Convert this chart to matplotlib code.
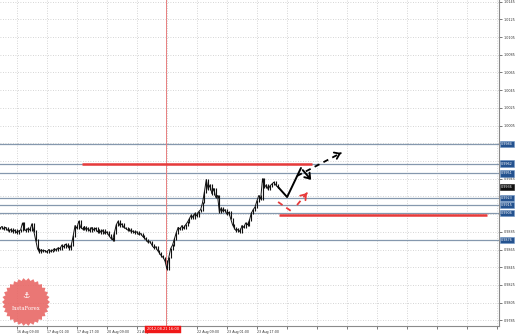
import numpy as np
import matplotlib
matplotlib.use("Agg")
import matplotlib.pyplot as plt
from matplotlib.patches import Polygon

# ---------------- data ----------------
closes = [
    0.9889, 0.9891, 0.9888, 0.9890, 0.9887,
    0.9886, 0.9888, 0.9885, 0.9887, 0.9884, 0.9886, 0.9887,
    0.9895,
    0.9888, 0.9886, 0.9889, 0.9887, 0.9894, 0.9886,
    0.9876, 0.9866, 0.9862,
    0.9865, 0.9863, 0.9864, 0.9862, 0.9865, 0.9863, 0.9864, 0.9866, 0.9864, 0.9867, 0.9866,
    0.9870, 0.9868, 0.9871, 0.9869,
    0.9866, 0.9870,
    0.9880, 0.9892, 0.9889, 0.9897,
    0.9890, 0.9888, 0.9891, 0.9887, 0.9889, 0.9886, 0.9890, 0.9887, 0.9889, 0.9885, 0.9887,
    0.9884, 0.9887, 0.9883, 0.9885, 0.9881, 0.9878, 0.9876,
    0.9884,
    0.9893, 0.9897, 0.9892, 0.9894, 0.9890,
    0.9889, 0.9887, 0.9888, 0.9885, 0.9886, 0.9884, 0.9885, 0.9882, 0.9883, 0.9880,
    0.9878, 0.9876, 0.9873, 0.9874, 0.9870, 0.9867, 0.9868, 0.9864,
    0.9861, 0.9858, 0.9856, 0.9852, 0.9843,
    0.9856, 0.9866, 0.9870, 0.9877, 0.9884,
    0.9890, 0.9888, 0.9892, 0.9889, 0.9893, 0.9896,
    0.9900, 0.9904, 0.9901, 0.9906, 0.9903, 0.9908, 0.9910,
    0.9918, 0.9930, 0.9944, 0.9933, 0.9938,
    0.9928, 0.9934, 0.9924, 0.9926,
    0.9907,
    0.9912, 0.9908, 0.9910, 0.9905, 0.9907, 0.9900,
    0.9893, 0.9889, 0.9886, 0.9888, 0.9885,
    0.9892, 0.9890, 0.9895, 0.9893, 0.9898,
    0.9906, 0.9910, 0.9913, 0.9920,
    0.9926, 0.9922, 0.9945,
    0.9935, 0.9938, 0.9933, 0.9937,
    0.9939, 0.9941, 0.9938, 0.9936,
]
current_price = 0.9936

level_lines = [0.9984, 0.9962, 0.9951, 0.9923, 0.9915, 0.9906, 0.9876]
level_labels = ["0.9984", "0.9962", "0.9951", "0.9923", "0.9915", "0.9906", "0.9876"]

red_upper = (0.9962, 43.7, 166.4)   # price, x start, x end (bars)
red_lower = (0.9904, 148.8, 259.7)
vline_bar = 88.5
vline_label = "2012.08.21 16:00"

price_ticks = [0.9785, 0.9805, 0.9825, 0.9845, 0.9865, 0.9885, 0.9905, 0.9925,
               0.9945, 0.9965, 0.9985, 1.0005, 1.0025, 1.0045, 1.0065, 1.0085,
               1.0105, 1.0125, 1.0145]
price_tick_labels = ["0.9785", "0.9805", "0.9825", "0.9845", "0.9865", "0.9885", "",
                     "", "0.9945", "", "", "1.0005", "1.0025", "1.0045", "1.0065",
                     "1.0085", "1.0105", "1.0125", "1.0145"]
time_tick_bars = [-7, 9, 25, 41, 57, 73, 89, 105, 121, 137, 153, 169, 185, 201,
                  217, 233, 249, 265]
time_tick_labels = ["15 Aug 17:00", "16 Aug 09:00", "17 Aug 01:00", "17 Aug 17:00",
                    "20 Aug 09:00", "21 Aug 01:00", "", "22 Aug 09:00",
                    "23 Aug 01:00", "23 Aug 17:00", "", "", "", "", "", "", "", ""]

# forecast paths (bar, price)
black_path_x = [148.3, 153.1, 160.5, 166.9]
black_path_y = [0.99356, 0.99243, 0.99571, 0.99413]
black_dash_x = [158.4, 181.9]
black_dash_y = [0.99481, 0.99741]
red_dash1_x = [148.3, 155.2]
red_dash1_y = [0.99187, 0.99085]
red_dash2_x = [158.4, 163.7]
red_dash2_y = [0.99153, 0.99288]

# ---------------- figure ----------------
W, H = 519, 335
fig = plt.figure(figsize=(W / 100, H / 100), dpi=100)
fig.patch.set_facecolor("white")
ax = fig.add_axes([0, 9 / H, 499 / W, 326 / H])
ax.set_facecolor("white")

# grid / ticks
ax.set_yticks(price_ticks)
ax.set_yticklabels(price_tick_labels)
ax.set_xticks(time_tick_bars)
ax.set_xticklabels(time_tick_labels)
ax.set_xlim(0, 266.1)
ax.set_ylim(0.97786, 1.01469)
ax.grid(True, color="#c8c8c8", linestyle=(0, (1, 2)), linewidth=0.6)
ax.yaxis.tick_right()
ax.tick_params(axis="y", length=2, width=0.5, pad=1.5, labelsize=2.4,
               colors="#444444", labelcolor="#333333")
ax.tick_params(axis="x", length=2, width=0.5, pad=0.8, labelsize=2.3,
               colors="#444444", labelcolor="#333333")
for lab in ax.get_xticklabels():
    lab.set_horizontalalignment("left")
for side in ["top", "left"]:
    ax.spines[side].set_visible(False)
for side in ["right", "bottom"]:
    ax.spines[side].set_color("#8a8a8a")
    ax.spines[side].set_linewidth(0.8)

# horizontal levels
for lv in level_lines:
    ax.axhline(lv, color="#8598ae", linewidth=0.9, zorder=2)

# red vertical line
ax.axvline(vline_bar, color="#e88080", linewidth=0.7, zorder=2)

# red levels
ax.hlines(red_upper[0], red_upper[1], red_upper[2], color="#e83b3b", linewidth=1.8, zorder=3)
ax.hlines(red_lower[0], red_lower[1], red_lower[2], color="#e83b3b", linewidth=1.8, zorder=3)

# price bars
x = np.arange(len(closes))
c = np.array(closes)
o = np.r_[c[0], c[:-1]]
ax.vlines(x, np.minimum(o, c) - 0.0001, np.maximum(o, c) + 0.0001,
          color="#111111", linewidth=0.8, zorder=4)
ax.plot(x, c, color="#111111", linewidth=0.7, zorder=4)

# forecast arrows
ax.plot(black_path_x[:-1], black_path_y[:-1], color="black", linewidth=1.4,
        zorder=5, solid_capstyle="round")
ax.annotate("", xy=(black_path_x[-1], black_path_y[-1]),
            xytext=(black_path_x[-2], black_path_y[-2]),
            arrowprops=dict(arrowstyle="->,head_length=0.35,head_width=0.25",
                            color="black", lw=1.4), zorder=5)
ax.plot(black_dash_x, black_dash_y, color="black", linewidth=1.3,
        linestyle=(0, (3, 2.5)), zorder=5)
ax.annotate("", xy=(black_dash_x[-1], black_dash_y[-1]),
            xytext=(black_dash_x[-1] - 1.5, black_dash_y[-1] - 0.00015),
            arrowprops=dict(arrowstyle="->,head_length=0.35,head_width=0.25",
                            color="black", lw=1.3), zorder=5)
ax.plot(red_dash1_x, red_dash1_y, color="#e83b3b", linewidth=1.3,
        linestyle=(0, (3, 2.5)), zorder=5)
ax.plot(red_dash2_x, red_dash2_y, color="#e83b3b", linewidth=1.3,
        linestyle=(0, (3, 2.5)), zorder=5)
ax.annotate("", xy=(red_dash2_x[-1], red_dash2_y[-1]),
            xytext=(red_dash2_x[-1] - 1.0, red_dash2_y[-1] - 0.00025),
            arrowprops=dict(arrowstyle="->,head_length=0.35,head_width=0.25",
                            color="#e83b3b", lw=1.3), zorder=5)

# price labels in boxes on right axis
xr = 1.0 + 2 / 499
for lv, txt in zip(level_lines, level_labels):
    ax.text(xr, lv, txt, transform=ax.get_yaxis_transform(), fontsize=2.4,
            color="white", va="center", ha="left", clip_on=False, zorder=10,
            bbox=dict(boxstyle="square,pad=0.35", fc="#24528f", ec="#6f95c4", lw=0.4))
ax.text(xr, current_price, f"{current_price:.4f}", transform=ax.get_yaxis_transform(),
        fontsize=2.4, color="white", va="center", ha="left", clip_on=False, zorder=11,
        bbox=dict(boxstyle="square,pad=0.35", fc="#111111", ec="#111111", lw=0.4))

# time label for vertical line
ax.text(vline_bar - 1.5, -0.0045, vline_label, transform=ax.get_xaxis_transform(),
        fontsize=2.6, color="white", va="top", ha="center", clip_on=False, zorder=10,
        bbox=dict(boxstyle="square,pad=0.5", fc="#f01818", ec="#f01818", lw=0.3))

# InstaForex logo (decorative starburst)
cx, cy, r_out, r_in, n = 26, H - 302, 24, 21.5, 30
ang = np.linspace(0, 2 * np.pi, 2 * n, endpoint=False)
rad = np.where(np.arange(2 * n) % 2 == 0, r_out, r_in)
pts = np.c_[(cx + rad * np.cos(ang)) / W, (cy + rad * np.sin(ang)) / H]
fig.patches.append(Polygon(pts, closed=True, transform=fig.transFigure,
                           fc="#e86462", ec="none", alpha=0.88, zorder=20))
fig.text(cx / W, (cy - 7) / H, "InstaForex", fontsize=3.8, color="white",
         ha="center", va="center", zorder=21, family="DejaVu Serif")
fig.text(cx / W, (cy + 6) / H, "\u2693", fontsize=6, color="white",
         ha="center", va="center", zorder=21)

fig.savefig("out.png", dpi=100, facecolor="white")
